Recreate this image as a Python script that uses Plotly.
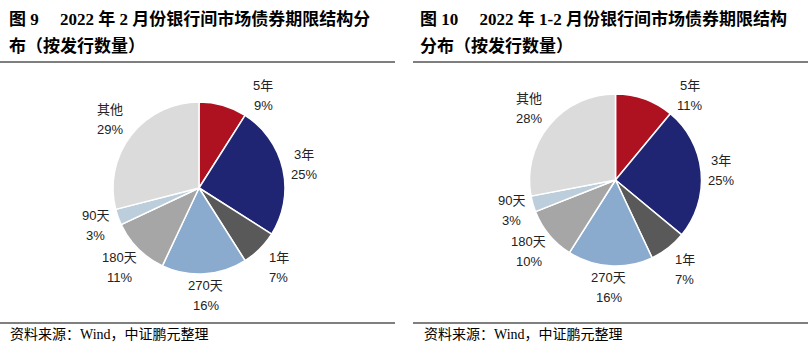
import math
import plotly.graph_objects as go

W, H = 808, 354

labels = ["5年", "3年", "1年", "270天", "180天", "90天", "其他"]
feb_values = [9, 25, 7, 16, 11, 3, 29]
janfeb_values = [11, 25, 7, 16, 10, 3, 28]
colors = ["#AE1220", "#1F2573", "#595959", "#8AABCD", "#A6A6A6", "#BCCDDC", "#DBDBDB"]

title_left = ["图 9　 2022 年 2 月份银行间市场债券期限结构分", "布（按发行数量）"]
title_right = ["图 10　 2022 年 1-2 月份银行间市场债券期限结构", "分布（按发行数量）"]
source_text = "资料来源：Wind，中证鹏元整理"

def px_x(x):
    return x / W

def px_y(y):
    return 1 - y / H

fig = go.Figure()
annotations = []

lab_font = dict(size=13, color="#222222", family="Liberation Sans, Noto Sans CJK SC")
PLOT_TOP = 76  # labels are kept below the plot-area top edge (pixels)

def label_center(cx, cy, r, ang):
    base, hw, hh = r + 2, 16, 19
    ux, uy = math.sin(ang), -math.cos(ang)
    d = base + abs(ux) * hw + abs(uy) * hh
    return cx + ux * d, cy + uy * d, hh

def add_pie(values, cx, cy, r):
    fig.add_trace(go.Pie(
        labels=labels, values=values, sort=False, direction="clockwise", rotation=0,
        marker=dict(colors=colors, line=dict(color="white", width=1.5)),
        textinfo="none", showlegend=False, hoverinfo="label+value",
        domain=dict(x=[px_x(cx - r), px_x(cx + r)], y=[px_y(cy + r), px_y(cy - r)]),
    ))
    total = float(sum(values))
    cum = 0.0
    for lab, v in zip(labels, values):
        mid = (cum + v / 2) / total * 2 * math.pi
        cum += v
        lx, ly, hh = label_center(cx, cy, r, mid)
        # slide along the periphery if the label would poke above the plot area
        step = math.radians(0.5) * (1 if math.sin(mid) >= 0 else -1)
        n = 0
        while ly - hh < PLOT_TOP and n < 120:
            mid += step
            lx, ly, hh = label_center(cx, cy, r, mid)
            n += 1
        for k, t in enumerate([lab, f"{v}%"]):
            annotations.append(dict(
                text=t, x=px_x(lx), y=px_y(ly - 10 + 20 * k), xref="paper", yref="paper",
                xanchor="center", yanchor="middle", showarrow=False, font=lab_font,
            ))

add_pie(feb_values, 199, 188, 86)
add_pie(janfeb_values, 615.5, 180, 86)

tfont = dict(family="Liberation Serif, Noto Sans CJK SC", size=17, color="#000000")
for x0, lines in [(7, title_left), (418, title_right)]:
    for i, t in enumerate(lines):
        annotations.append(dict(
            text="<b>" + t + "</b>", x=px_x(x0), y=px_y(19 + i * 27), xref="paper", yref="paper",
            xanchor="left", yanchor="middle", showarrow=False, font=tfont,
        ))
for x0 in (8, 422):
    annotations.append(dict(
        text=source_text, x=px_x(x0), y=px_y(334), xref="paper", yref="paper",
        xanchor="left", yanchor="middle", showarrow=False,
        font=dict(family="Liberation Serif, Noto Sans CJK SC", size=14, color="#000000"),
    ))

shapes = []
for (xa, xb) in [(0, 395), (413, 808)]:
    for yy in (62, 323):
        shapes.append(dict(type="line", xref="paper", yref="paper",
                           x0=px_x(xa), x1=px_x(xb), y0=px_y(yy), y1=px_y(yy),
                           line=dict(color="#000000", width=1.2)))

fig.update_layout(
    width=W, height=H, margin=dict(l=0, r=0, t=0, b=0),
    paper_bgcolor="white", plot_bgcolor="white",
    annotations=annotations, shapes=shapes,
)

fig.write_html("out.html")
